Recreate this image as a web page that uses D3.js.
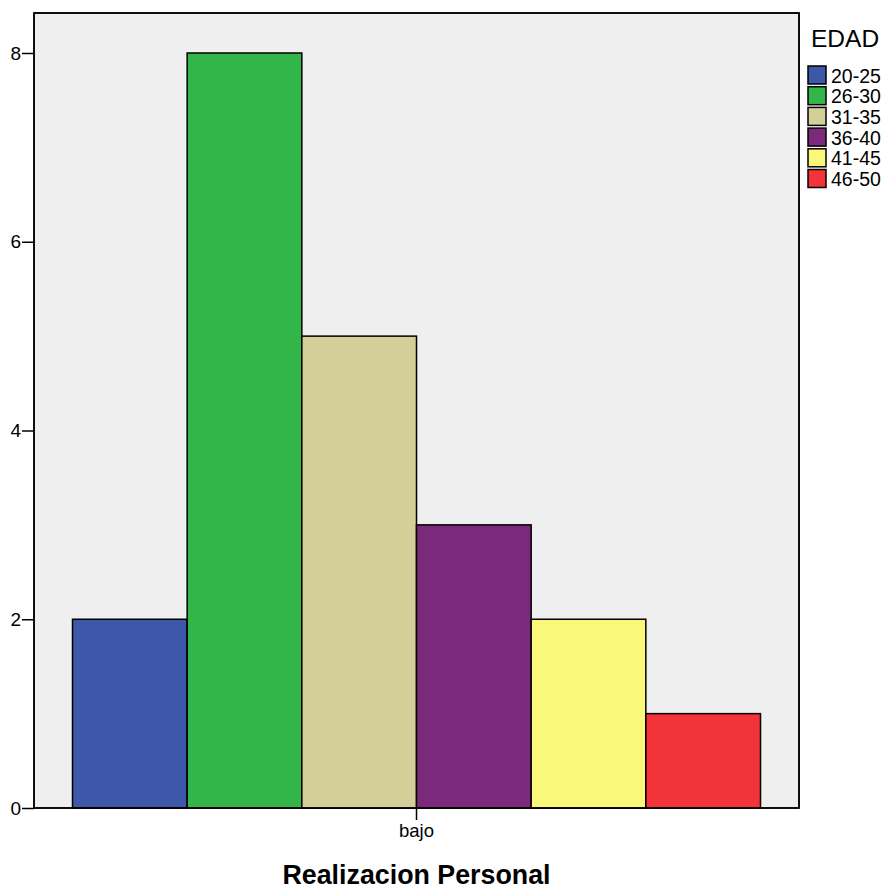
<!DOCTYPE html>
<html><head><meta charset="utf-8">
<script src="https://cdn.jsdelivr.net/npm/d3@7"></script>
<style>body{margin:0;background:#fff}svg{display:block;font-family:Arial,"Liberation Sans",sans-serif}</style>
</head><body><svg id="c" width="887" height="890"></svg>
<script>
const categories = ["bajo"];
const groups = ["20-25","26-30","31-35","36-40","41-45","46-50"];
const values = [2, 8, 5, 3, 2, 1];
const colors = ["#3e58a9","#32b649","#d4cf98","#7b297a","#fbf778","#f23339"];
const yTicks = [0, 2, 4, 6, 8];

const FF = "Arial, 'Liberation Sans', sans-serif";
const svg = d3.select("#c");
const L = 34, R = 799, T = 13, B = 808;
svg.append("rect").attr("x", L).attr("y", T).attr("width", R - L).attr("height", B - T)
  .attr("fill", "#efefef").attr("stroke", "#000").attr("stroke-width", 1.5);

const y = d3.scaleLinear().domain([0, 8]).range([B, 53]);
const x0 = d3.scaleBand().domain(categories).range([L, R]).paddingInner(0).paddingOuter(0.05);
const xCenter = x0("bajo") + x0.bandwidth() / 2;
const groupWidth = 688;
const x1 = d3.scaleBand().domain(groups).range([xCenter - groupWidth / 2, xCenter + groupWidth / 2]);

svg.append("g").selectAll("rect").data(values).join("rect")
  .attr("x", (d, i) => x1(groups[i]))
  .attr("y", d => y(d))
  .attr("width", x1.bandwidth())
  .attr("height", d => B - y(d))
  .attr("fill", (d, i) => colors[i])
  .attr("stroke", "#000").attr("stroke-width", 1.5);

// y axis
const ya = svg.append("g").attr("transform", `translate(${L},0)`)
  .call(d3.axisLeft(y).tickValues(yTicks).tickSize(12).tickPadding(1).tickFormat(d3.format("d")));
ya.select(".domain").remove();
ya.selectAll("line").attr("stroke", "#000").attr("stroke-width", 1.5);
ya.selectAll("text").attr("font-size", 19).attr("fill", "#000").attr("font-family", FF);

// x axis
const xa = svg.append("g").attr("transform", `translate(0,${B})`)
  .call(d3.axisBottom(x0).tickSize(12).tickPadding(4));
xa.select(".domain").remove();
xa.selectAll("line").attr("stroke", "#000").attr("stroke-width", 1.5);
xa.selectAll("text").attr("font-size", 18.5).attr("fill", "#000").attr("font-family", FF);

// frame on top
svg.append("rect").attr("x", L).attr("y", T).attr("width", R - L).attr("height", B - T)
  .attr("fill", "none").attr("stroke", "#000").attr("stroke-width", 1.5);

svg.append("text").attr("x", xCenter).attr("y", 884).attr("text-anchor", "middle")
  .attr("font-size", 26.8).attr("font-weight", "bold").text("Realizacion Personal");

// legend
const lg = svg.append("g");
lg.append("text").attr("x", 811).attr("y", 47).attr("font-size", 24.5).text("EDAD");
groups.forEach((g, i) => {
  const yy = 66 + i * 20.7;
  lg.append("rect").attr("x", 808).attr("y", yy).attr("width", 18).attr("height", 18)
    .attr("fill", colors[i]).attr("stroke", "#000").attr("stroke-width", 1.5);
  lg.append("text").attr("x", 831).attr("y", yy + 16.5).attr("font-size", 19.5).text(g);
});
</script></body></html>
